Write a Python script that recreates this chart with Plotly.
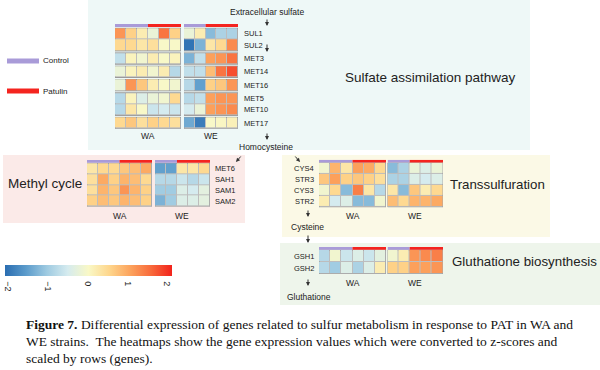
import plotly.graph_objects as go

W, H = 600, 370

# ---------------- data ----------------
wa_groups = ["Control"] * 3 + ["Patulin"] * 3
we_groups = ["Control"] * 2 + ["Patulin"] * 3

sulfate_genes = ["SUL1", "SUL2", "MET3", "MET14", "MET16", "MET5", "MET10", "MET17"]
sulfate_blocks = [["SUL1", "SUL2"], ["MET3"], ["MET14"], ["MET16"], ["MET5", "MET10"], ["MET17"]]
sulfate_WA = [
    [1.2, 0.6, 0.2, -0.2, 1.5, 0.6],
    [0.5, 0.5, 0.3, 0.4, 0.0, 0.0],
    [-0.7, 0.1, -0.1, 0.2, 0.0, 0.1],
    [-0.2, 0.1, 0.2, -0.1, 0.2, -0.8],
    [-0.2, 1.2, 0.7, 0.2, 0.0, -0.1],
    [-0.8, 0.1, -0.4, -0.2, -0.1, 0.5],
    [-0.8, 0.3, 0.0, -0.6, -0.5, -0.6],
    [0.5, 0.7, 0.4, 0.6, 0.5, 0.4],
]
sulfate_WE = [
    [-0.2, 0.2, -1.2, -0.9, -0.9],
    [-2.0, -1.3, 0.3, 0.5, 1.3],
    [-1.3, -0.7, 1.1, 1.2, 1.5],
    [-0.7, -0.7, 0.8, 1.5, 1.8],
    [-0.8, -1.5, 0.6, 0.7, 1.2],
    [-0.8, -0.7, 1.1, 1.2, 1.2],
    [-0.5, -0.2, 1.1, 1.2, 1.3],
    [-1.4, -1.9, 0.0, 0.05, 0.15],
]

methyl_genes = ["MET6", "SAH1", "SAM1", "SAM2"]
methyl_blocks = [methyl_genes]
methyl_WA = [
    [0.3, 0.5, 0.5, 0.7, 0.8, 1.0],
    [0.4, 1.0, 0.6, 0.9, 0.8, 0.5],
    [0.4, 0.9, 0.7, 1.2, 0.9, 0.6],
    [0.6, 0.8, 0.7, 0.9, 0.8, 0.6],
]
methyl_WE = [
    [-1.5, -1.5, 0.3, 0.3, 0.5],
    [-0.8, -0.8, -0.6, -0.8, -0.6],
    [-1.0, -1.0, -0.4, -0.5, -0.3],
    [-1.3, -1.0, -0.4, -0.4, -0.3],
]

trans_genes = ["CYS4", "STR3", "CYS3", "STR2"]
trans_blocks = [trans_genes]
trans_WA = [
    [-0.1, 0.9, 0.3, 1.1, 1.0, 0.5],
    [0.7, 1.1, 0.6, 0.7, 0.6, 0.4],
    [-0.1, 0.5, -1.2, 1.4, 0.3, -0.8],
    [0.2, -0.5, -0.4, -1.2, -1.2, -0.1],
]
trans_WE = [
    [-1.2, -0.9, -0.2, -0.4, -0.2],
    [-0.9, -0.9, -0.4, -0.5, -0.4],
    [0.3, -1.2, 0.7, 0.2, 0.5],
    [0.8, 0.5, 0.9, 0.9, 1.0],
]

gsh_genes = ["GSH1", "GSH2"]
gsh_blocks = [gsh_genes]
gsh_WA = [
    [-0.8, -0.1, -0.6, -0.4, -0.6, -0.3],
    [-0.8, -1.0, -0.4, -0.9, -0.4, 0.2],
]
gsh_WE = [
    [-0.1, 0.2, 1.2, 1.3, 1.4],
    [0.6, 0.6, 1.1, 1.1, 1.2],
]

colorbar_ticks = [-2, -1, 0, 1, 2]
colorbar_ticktext = ["\u22122", "\u22121", "0", "1", "2"]

# ---------------- style ----------------
GROUP_COL = {"Control": "#a99bd8", "Patulin": "#f4241f"}
CSCALE = [
    [0.0, "#2a6db1"], [0.125, "#5b9bcb"], [0.25, "#9ecae1"], [0.375, "#d5ebef"],
    [0.5, "#f9f8c6"], [0.625, "#fed68c"], [0.75, "#fca35d"], [0.875, "#f86a3b"],
    [1.0, "#f2231c"],
]
FONT = "Arial, Liberation Sans, sans-serif"
TXT = "#222222"

fig = go.Figure()
shapes = []
annots = []


def px(x):
    return x / W


def py(y):
    return 1 - y / H


# background panels
for (x0, y0, x1, y1, c) in [
    (88, 0, 530, 150, "#eef8f7"),
    (3, 155, 245, 223, "#fbeae8"),
    (282, 155, 550, 237, "#fbf9e6"),
    (280, 243, 600, 305, "#eef5eb"),
]:
    shapes.append(dict(type="rect", xref="paper", yref="paper", x0=px(x0), x1=px(x1),
                       y0=py(y1), y1=py(y0), fillcolor=c, line_width=0, layer="below"))

axis_n = [0]


def add_heat(values, genes, blocks, groups, x0, x1, row_top, rh, gap, bar_h, bar_gap):
    axis_n[0] += 1
    n = axis_n[0]
    xs = "x" if n == 1 else f"x{n}"
    ys = "y" if n == 1 else f"y{n}"
    g = gap / rh
    edges = [0.0]
    z = []
    block_spans = []
    row_centers = []
    idx = {gname: i for i, gname in enumerate(genes)}
    for bi, blk in enumerate(blocks):
        if bi > 0:
            z.append([None] * len(groups))
            edges.append(edges[-1] + g)
        b0 = edges[-1]
        for gname in blk:
            z.append(values[idx[gname]])
            row_centers.append(edges[-1] + 0.5)
            edges.append(edges[-1] + 1.0)
        block_spans.append((b0, edges[-1]))
    total = edges[-1]
    top_units = -(bar_h + bar_gap) / rh
    y_top_px = row_top - bar_h - bar_gap
    y_bot_px = row_top + total * rh
    fig.add_trace(go.Heatmap(
        z=z, x=list(range(len(groups))), y=edges, coloraxis="coloraxis",
        xgap=1, ygap=1, xaxis=xs, yaxis=ys, hoverinfo="skip"))
    fig.layout[f"xaxis{n}"] = dict(domain=[px(x0), px(x1)], range=[-0.5, len(groups) - 0.5],
                                   visible=False, anchor=ys, fixedrange=True)
    fig.layout[f"yaxis{n}"] = dict(domain=[py(y_bot_px), py(y_top_px)], range=[total, top_units],
                                   visible=False, anchor=xs, fixedrange=True)
    for (b0, b1) in block_spans:
        shapes.append(dict(type="rect", xref=xs, yref=ys, x0=-0.5, x1=len(groups) - 0.5,
                           y0=b0, y1=b1, fillcolor="#bdbdbd",
                           line=dict(color="#9a9a9a", width=1), layer="below"))
    # group bars
    start = 0
    for i in range(1, len(groups) + 1):
        if i == len(groups) or groups[i] != groups[start]:
            shapes.append(dict(type="rect", xref=xs, yref=ys, x0=start - 0.5, x1=i - 0.5,
                               y0=top_units, y1=top_units + bar_h / rh,
                               fillcolor=GROUP_COL[groups[start]], line_width=0))
            start = i
    return [row_top + c * rh for c in row_centers], y_bot_px


def gene_labels(genes, centers, x, anchor):
    for gname, c in zip(genes, centers):
        annots.append(dict(x=px(x), y=py(c), xref="paper", yref="paper", text=gname,
                           showarrow=False, xanchor=anchor, yanchor="middle",
                           font=dict(size=7.5, color=TXT, family=FONT)))


def strain_label(text, x0, x1, y):
    annots.append(dict(x=px((x0 + x1) / 2), y=py(y), xref="paper", yref="paper", text=text,
                       showarrow=False, xanchor="center", yanchor="middle",
                       font=dict(size=8.5, color=TXT, family=FONT)))


def label(text, x, y, size, anchor="center"):
    annots.append(dict(x=px(x), y=py(y), xref="paper", yref="paper", text=text,
                       showarrow=False, xanchor=anchor, yanchor="middle",
                       font=dict(size=size, color=TXT, family=FONT)))


def arrow(xt, yt, xh, yh):
    annots.append(dict(x=px(xh), y=py(yh), xref="paper", yref="paper", text="",
                       showarrow=True, ax=xt - xh, ay=yt - yh, arrowhead=2,
                       arrowsize=0.8, arrowwidth=1, arrowcolor="#333333"))


# Sulfate assimilation
c, _ = add_heat(sulfate_WA, sulfate_genes, sulfate_blocks, wa_groups, 115, 181, 28.3, 11.3, 2.0, 3, 1.4)
add_heat(sulfate_WE, sulfate_genes, sulfate_blocks, we_groups, 184, 238, 28.3, 11.3, 2.0, 3, 1.4)
gene_labels(sulfate_genes, c, 242, "left")
strain_label("WA", 115, 181, 136)
strain_label("WE", 184, 238, 136)

# Methyl cycle
c, _ = add_heat(methyl_WA, methyl_genes, methyl_blocks, wa_groups, 87, 152, 163.3, 10.8, 0, 2.8, 0.5)
add_heat(methyl_WE, methyl_genes, methyl_blocks, we_groups, 155, 210, 163.3, 10.8, 0, 2.8, 0.5)
gene_labels(methyl_genes, c, 213, "left")
strain_label("WA", 87, 152, 216)
strain_label("WE", 155, 210, 216)

# Transsulfuration
c, _ = add_heat(trans_WA, trans_genes, trans_blocks, wa_groups, 319, 386, 162.9, 11.1, 0, 2.8, 0.3)
add_heat(trans_WE, trans_genes, trans_blocks, we_groups, 387.5, 443, 162.9, 11.1, 0, 2.8, 0.3)
gene_labels(trans_genes, c, 316, "right")
strain_label("WA", 319, 386, 216)
strain_label("WE", 387.5, 443, 216)

# Glutathione
c, _ = add_heat(gsh_WA, gsh_genes, gsh_blocks, wa_groups, 319, 386, 250, 12, 0, 2.8, 0.3)
add_heat(gsh_WE, gsh_genes, gsh_blocks, we_groups, 387.5, 443, 250, 12, 0, 2.8, 0.3)
gene_labels(gsh_genes, c, 316, "right")
strain_label("WA", 319, 386, 283)
strain_label("WE", 387.5, 443, 283)

# pathway titles & metabolites
label("Sulfate assimilation pathway", 430, 77, 13.5)
label("Methyl cycle", 45, 183, 13.5)
label("Transsulfuration", 497, 184, 13.3)
label("Gluthatione biosynthesis", 450, 261, 13.3, "left")
label("Extracellular sulfate", 267, 12, 8.5)
label("Homocysteine", 266, 147, 8.5)
label("Cysteine", 307, 227, 8.5)
label("Gluthatione", 309, 297, 8.5)

arrow(267, 18, 267, 26)
arrow(267, 43, 267, 52)
arrow(267, 132, 267, 140)
arrow(242, 155, 236, 162)
arrow(294, 155, 300, 162)
arrow(308, 209, 308, 217)
arrow(308, 234, 308, 243)
arrow(308, 278, 308, 286)

# legend
for name, yc in [("Control", 61), ("Patulin", 91)]:
    shapes.append(dict(type="rect", xref="paper", yref="paper", x0=px(7), x1=px(39),
                       y0=py(yc + 2.5), y1=py(yc - 2.5), fillcolor=GROUP_COL[name], line_width=0))
    label(name, 41, yc, 8, "left")

# caption
cap_font = dict(family="Liberation Serif, Times New Roman, serif", size=13.5, color="#111111")
cap_lines = [
    "<b>Figure 7.</b> Differential expression of genes related to sulfur metabolism in response to PAT in WA and",
    "WE strains.  The heatmaps show the gene expression values which were converted to z-scores and",
    "scaled by rows (genes).",
]
for line, yc in zip(cap_lines, [324, 341, 358]):
    annots.append(dict(x=px(24), y=py(yc), xref="paper", yref="paper", text=line, showarrow=False,
                       xanchor="left", yanchor="middle", font=cap_font))

fig.update_layout(
    width=W, height=H, margin=dict(l=0, r=0, t=0, b=0),
    paper_bgcolor="white", plot_bgcolor="rgba(0,0,0,0)", showlegend=False,
    shapes=shapes, annotations=annots,
    coloraxis=dict(
        colorscale=CSCALE, cmin=-2.08, cmax=2.12,
        colorbar=dict(orientation="h", x=px(5), xanchor="left", y=py(265), yanchor="top",
                      len=167, lenmode="pixels", thickness=11, thicknessmode="pixels",
                      outlinewidth=0, xpad=0, ypad=0, tickvals=colorbar_ticks,
                      ticktext=colorbar_ticktext, tickangle=90, ticks="outside",
                      ticklen=4, tickcolor="rgba(0,0,0,0)",
                      tickfont=dict(size=9, color=TXT, family=FONT)),
    ),
)

fig.write_html("out.html", config={"displayModeBar": False},
               post_script="document.body.style.margin='0px';document.body.style.overflow='hidden';")
